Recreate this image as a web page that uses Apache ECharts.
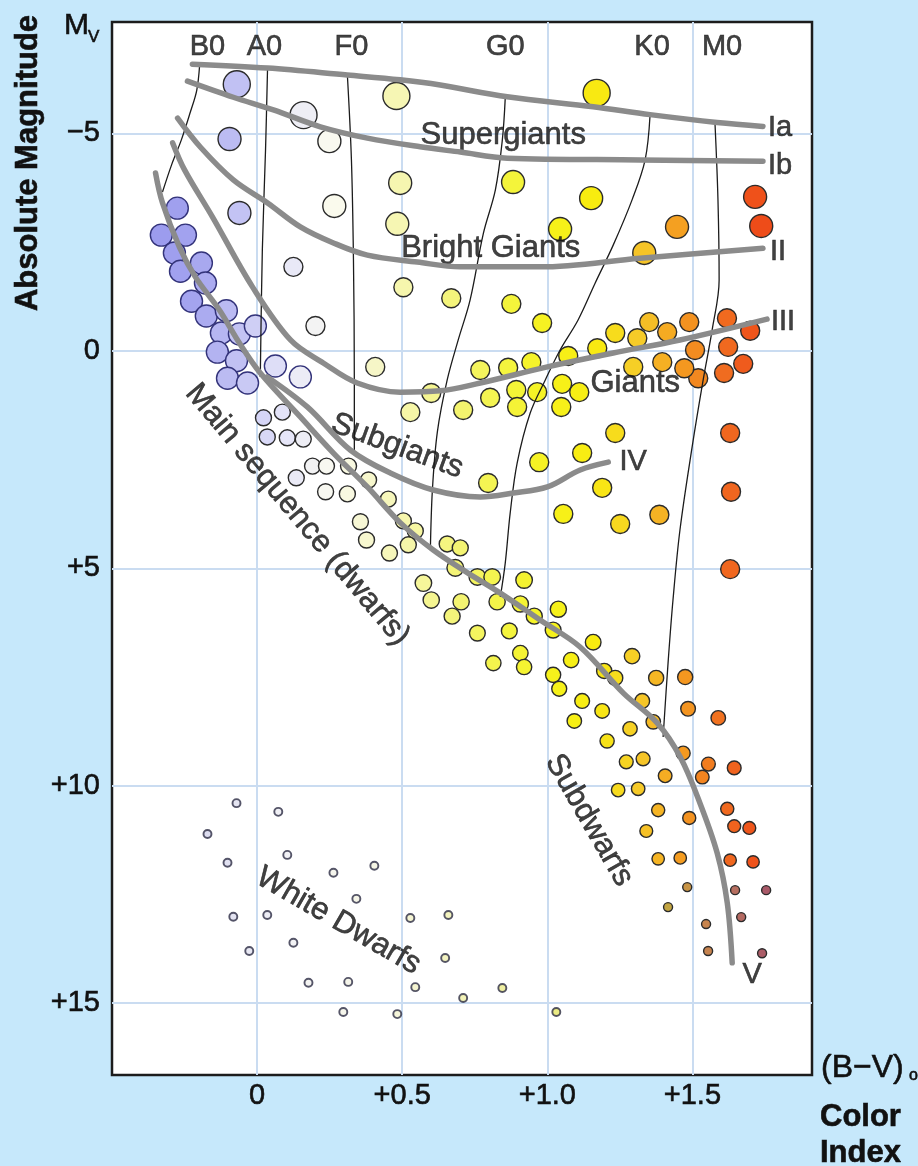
<!DOCTYPE html>
<html>
<head>
<meta charset="utf-8">
<title>HR diagram</title>
<script src="https://cdn.jsdelivr.net/npm/echarts@6.0.0/dist/echarts.min.js"></script>
<style>
  html, body { margin: 0; padding: 0; background: #c6e8fb; }
  #chart { width: 918px; height: 1166px; }
</style>
</head>
<body>
<div id="chart"></div>
<script>
const FONT = '"Liberation Sans", Arial, Helvetica, sans-serif'
const INK = '#111111'

// stars: [B-V colour index, absolute magnitude]
const superGiants = [[-0.07, -6.13], [0.16, -5.42], [0.48, -5.86], [1.17, -5.93]]
const brightGiants = [
  [-0.095, -4.87], [0.249, -4.82], [0.493, -3.86], [0.882, -3.88], [1.151, -3.51], [0.266, -3.33],
  [0.483, -2.92], [-0.061, -3.17], [1.044, -2.80], [1.447, -2.85], [1.716, -3.54], [1.737, -2.87], [1.334, -2.25]
]
const giants = [
  [0.125, -1.93], [0.504, -1.46], [0.669, -1.21], [0.876, -1.08], [0.982, -0.64], [0.201, -0.57], [0.407, 0.37],
  [0.769, 0.44], [0.865, 0.39], [0.945, 0.26], [1.072, 0.12], [1.172, -0.06], [1.234, -0.41], [1.310, -0.29],
  [1.351, -0.66], [1.413, -0.43], [1.489, -0.66], [1.619, -0.75], [1.699, -0.46], [1.509, -0.02], [1.623, -0.09],
  [1.675, 0.30], [1.609, 0.51], [1.520, 0.63], [1.472, 0.40], [1.396, 0.26], [1.296, 0.37],
  [0.803, 1.08], [0.893, 0.90], [0.896, 1.29], [0.965, 0.95], [1.051, 0.76], [1.110, 0.95], [1.048, 1.29],
  [0.600, 0.97], [0.528, 1.41], [0.710, 1.36],
  [1.234, 1.89], [1.120, 2.35], [0.972, 2.56], [0.796, 3.04], [1.189, 3.15], [1.055, 3.75], [1.251, 3.98], [1.386, 3.77],
  [1.630, 1.89], [1.633, 3.24], [1.630, 5.02]
]
const msUpper = [
  [-0.275, -3.28], [-0.330, -2.66], [-0.247, -2.66], [-0.285, -2.25], [-0.264, -1.83], [-0.192, -2.02],
  [-0.178, -1.56], [-0.226, -1.14], [-0.175, -0.80], [-0.106, -0.92], [-0.123, -0.41], [-0.061, -0.39],
  [-0.006, -0.57], [-0.137, 0.03], [-0.071, 0.23], [-0.102, 0.63], [-0.033, 0.74], [0.063, 0.35], [0.149, 0.60]
]
const msMid = [
  [0.022, 1.54], [0.087, 1.41], [0.035, 1.98], [0.104, 2.00], [0.159, 2.03], [0.191, 2.65], [0.239, 2.65],
  [0.315, 2.65], [0.135, 2.92], [0.384, 2.97], [0.236, 3.24], [0.311, 3.29], [0.452, 3.41], [0.356, 3.93],
  [0.504, 3.91], [0.545, 4.14], [0.377, 4.35], [0.521, 4.46], [0.456, 4.65], [0.655, 4.44], [0.700, 4.53]
]
const msLower = [
  [0.683, 4.99], [0.759, 5.20], [0.810, 5.20], [0.920, 5.27], [0.573, 5.34], [0.600, 5.73], [0.703, 5.77],
  [0.672, 6.10], [0.827, 5.77], [0.907, 5.82], [0.955, 6.10], [1.038, 5.94], [0.759, 6.49], [0.869, 6.44],
  [1.020, 6.42], [0.907, 6.95], [0.814, 7.18], [0.920, 7.27], [1.082, 7.11], [1.158, 6.70], [1.196, 7.36],
  [1.234, 7.52], [1.020, 7.45], [1.041, 7.77], [1.120, 8.05], [1.189, 8.28], [1.093, 8.51], [1.206, 8.97],
  [1.292, 7.02], [1.375, 7.52], [1.475, 7.50], [1.327, 8.05], [1.485, 8.23], [1.589, 8.44], [1.285, 8.69],
  [1.365, 8.53], [1.468, 9.25], [1.272, 9.45], [1.330, 9.38], [1.406, 9.77], [1.555, 9.50], [1.534, 9.80],
  [1.644, 9.59], [1.244, 10.10], [1.313, 10.07], [1.382, 10.56], [1.489, 10.74], [1.620, 10.53], [1.341, 11.04],
  [1.644, 10.93], [1.696, 10.97], [1.382, 11.68], [1.458, 11.66], [1.630, 11.71], [1.709, 11.75]
]
const faintDwarfs = [
  [1.482, 12.33], [1.647, 12.40], [1.754, 12.40], [1.416, 12.79], [1.668, 13.02], [1.547, 13.18], [1.554, 13.80], [1.740, 13.85]
]
const whiteDwarfs = [
  [-0.071, 10.40], [0.073, 10.60], [-0.171, 11.11], [-0.102, 11.77], [0.104, 11.59], [0.263, 12.00], [0.404, 11.84],
  [0.342, 12.60], [-0.082, 13.01], [0.035, 12.97], [0.125, 13.61], [-0.027, 13.80], [0.528, 13.04], [0.659, 12.97],
  [0.648, 13.96], [0.177, 14.53], [0.314, 14.51], [0.545, 14.63], [0.710, 14.88], [0.845, 14.65], [0.297, 15.20],
  [0.483, 15.25], [1.031, 15.20]
]

// luminosity class curves
const curveIa = [[-0.223, -6.59], [0.036, -6.50], [0.311, -6.34], [0.493, -6.23], [0.631, -6.11], [0.862, -5.84], [1.158, -5.61], [1.354, -5.43], [1.585, -5.25], [1.743, -5.16]]
const curveIb = [[-0.240, -6.20], [-0.082, -5.83], [0.056, -5.54], [0.218, -5.15], [0.380, -4.89], [0.562, -4.69], [0.700, -4.57], [0.862, -4.43], [1.320, -4.39], [1.743, -4.36]]
const curveII = [[-0.274, -5.35], [-0.195, -4.68], [-0.082, -3.93], [0.036, -3.40], [0.149, -2.85], [0.263, -2.48], [0.380, -2.20], [0.552, -2.04], [0.700, -1.93], [0.975, -1.93], [1.320, -2.13], [1.743, -2.36]]
const curveIII = [[-0.291, -4.78], [-0.250, -4.16], [-0.154, -3.08], [-0.016, -1.47], [0.115, -0.25], [0.228, 0.28], [0.345, 0.74], [0.493, 0.95], [0.631, 0.92], [0.769, 0.74], [1.000, 0.37], [1.227, 0.05], [1.457, -0.25], [1.757, -0.73]]
const curveIV = [[0.035, 0.60], [0.173, 1.29], [0.321, 2.28], [0.459, 2.81], [0.607, 3.20], [0.769, 3.36], [0.883, 3.27], [1.000, 3.13], [1.113, 2.74], [1.210, 2.56]]
const curveV = [[-0.350, -4.09], [-0.326, -3.40], [-0.268, -2.39], [-0.213, -1.70], [-0.130, -0.94], [-0.061, -0.18], [0.011, 0.51], [0.149, 1.52], [0.263, 2.35], [0.380, 3.13], [0.493, 3.95], [0.607, 4.58], [0.724, 5.10], [0.838, 5.57], [0.975, 6.19], [1.113, 6.81], [1.262, 7.87], [1.379, 8.56], [1.458, 9.34], [1.526, 10.40], [1.585, 11.54], [1.620, 12.69], [1.637, 14.07]]

// spectral type boundaries
const edgeB0 = [[-0.198, -6.57], [-0.208, -5.99], [-0.230, -5.49], [-0.261, -4.85], [-0.295, -4.27], [-0.326, -3.65]]
const edgeA0 = [[0.036, -6.50], [0.029, -4.61], [0.018, -2.31], [0.011, 0.60]]
const edgeF0 = [[0.311, -6.34], [0.325, -4.39], [0.332, -2.09], [0.335, 0.67], [0.335, 2.28]]
const edgeG0 = [[0.855, -5.81], [0.845, -4.85], [0.821, -3.70], [0.780, -2.71], [0.734, -1.17], [0.693, -0.25], [0.655, 0.67], [0.621, 1.87], [0.604, 3.20], [0.597, 4.58]]
const edgeK0 = [[1.354, -5.42], [1.337, -4.39], [1.292, -3.47], [1.227, -2.43], [1.165, -1.56], [1.106, -0.71], [1.044, -0.02], [0.993, 0.67], [0.941, 1.43], [0.896, 2.58], [0.872, 3.73], [0.855, 4.88], [0.838, 5.66]]
const edgeM0 = [[1.578, -5.19], [1.588, -3.47], [1.592, -1.63], [1.568, -0.48], [1.537, 0.67], [1.499, 2.21], [1.457, 4.12], [1.433, 5.73], [1.416, 7.18], [1.399, 8.88]]

const spectralTypes = ['B0', 'A0', 'F0', 'G0', 'K0', 'M0']
const spectralX = [-0.171, 0.025, 0.325, 0.855, 1.361, 1.602]
const spectralMag = -6.98
const lumClasses = ['Ia', 'Ib', 'II', 'III', 'IV', 'V']
const lumPos = [[1.802, -5.12], [1.802, -4.26], [1.795, -2.27], [1.812, -0.66], [1.296, 2.56], [1.706, 14.35]]
const regionNames = ['Supergiants', 'Bright Giants', 'Giants', 'Subgiants', 'Main sequence (dwarfs)', 'Subdwarfs', 'White Dwarfs']
const regionPos = [[0.848, -4.96], [0.805, -2.36], [1.303, 0.74], [0.483, 2.19], [0.139, 3.77], [1.144, 10.79], [0.280, 13.11]]
const regionAngle = [0, 0, 0, -20, -50, -60, -30]

const xTicks = [0, 0.5, 1.0, 1.5]
const yTicks = [-5, 0, 5, 10, 15]

const chart = echarts.init(document.getElementById('chart'))

const thin = data => ({
  type: 'line', data, smooth: 0.35, showSymbol: false, silent: true,
  lineStyle: { width: 1.3, color: '#1c1c1c' }
})
const thick = data => ({
  type: 'line', data, smooth: 0.35, showSymbol: false, silent: true,
  lineStyle: { width: 5.5, color: '#8b8b8b', cap: 'round' }
})
const stars = (data, size, border) => ({
  type: 'scatter', data, symbolSize: size, silent: true,
  itemStyle: { borderColor: border || '#2b2b2b', borderWidth: 1.4, opacity: 1 }
})
// label text is slightly stroked so it reads as heavy as the original lettering
const ink = { color: INK, fontFamily: FONT, textBorderColor: INK, textBorderWidth: 0.6 }
const textSeries = (data, fontSize) => ({
  type: 'scatter', data, symbolSize: 0, silent: true,
  label: { show: true, position: 'inside', formatter: '{b}', fontSize, ...ink }
})
const gText = (x, y, text, fontSize, extra) => ({
  type: 'text', x, y, ...extra,
  style: { text, fontSize, fontFamily: FONT, fill: INK, stroke: INK, lineWidth: 0.6, align: 'left', verticalAlign: 'middle', ...(extra && extra.style) }
})

const series = [
  thin(edgeB0), thin(edgeA0), thin(edgeF0), thin(edgeG0), thin(edgeK0), thin(edgeM0),
  thick(curveIa), thick(curveIb), thick(curveII), thick(curveIII), thick(curveIV), thick(curveV),
  stars(superGiants, 27), // 12
  stars(brightGiants, 23),
  stars(giants, 19),
  stars(msUpper, 22, '#33337a'),
  stars(msMid, 16),
  stars(msLower, v => 20 - 0.65 * v[1]),
  stars(faintDwarfs, 9), // 18
  { ...stars(whiteDwarfs, 8), itemStyle: { borderColor: '#2c2c44', borderWidth: 1.9 } }, // 19
  textSeries(spectralTypes.map((t, i) => ({ name: t, value: [spectralX[i], spectralMag] })), 29),
  textSeries(lumClasses.map((t, i) => ({ name: t, value: lumPos[i] })), 29),
  textSeries(regionNames.map((t, i) => ({ name: t, value: regionPos[i], label: { rotate: regionAngle[i] } })), 31)
]

const option = {
  animation: false,
  backgroundColor: '#c6e8fb',
  grid: {
    left: 112, top: 22, width: 700, height: 1053,
    show: true, backgroundColor: '#ffffff', borderColor: '#1c1c1c', borderWidth: 2.5
  },
  xAxis: {
    type: 'value', min: -0.5, max: 1.912,
    axisLine: { show: false },
    axisTick: { show: false, customValues: xTicks },
    axisLabel: {
      customValues: xTicks, fontSize: 29, margin: 6, ...ink,
      formatter: v => (v === 0 ? '0' : '+' + v.toFixed(1))
    },
    splitLine: { show: true, lineStyle: { color: '#cadcf1', width: 2 } }
  },
  yAxis: {
    type: 'value', inverse: true, min: -7.56, max: 16.65,
    axisLine: { show: false },
    axisTick: { show: false, customValues: yTicks },
    axisLabel: {
      customValues: yTicks, fontSize: 29, margin: 12, ...ink,
      formatter: v => (v === 0 ? '0' : v < 0 ? '\u2212' + (-v) : '+' + v)
    },
    splitLine: { show: true, lineStyle: { color: '#cadcf1', width: 2 } }
  },
  visualMap: [
    {
      type: 'continuous', show: false, dimension: 0, min: -0.35, max: 1.76, seriesIndex: [12, 13, 14, 15, 16, 17],
      inRange: { color: ['#9a9aee', '#a6a6ef', '#c6c6f4', '#e6e6f8', '#fafaf0', '#f6f6c8', '#f6f6a0', '#f4f470',
        '#f4f440', '#f6f21c', '#f8ec10', '#f6cc28', '#f49c20', '#f06c20', '#ee4618'] }
    },
    {
      type: 'continuous', show: false, dimension: 0, min: 1.4, max: 1.76, seriesIndex: [18],
      inRange: { color: ['#c0a840', '#cc8a48', '#b87060', '#a85868'] }
    },
    {
      type: 'continuous', show: false, dimension: 0, min: -0.2, max: 1.05, seriesIndex: [19],
      inRange: { color: ['#d0d0ea', '#f0f0f4', '#f4f4dc', '#eeeea0', '#e4e460'] }
    }
  ],
  graphic: [
    gText(28, 163, 'Absolute Magnitude', 31, { rotation: Math.PI / 2, style: { fontWeight: 'bold', align: 'center' } }),
    gText(64, 26, 'M', 30),
    gText(88, 37, 'V', 17),
    gText(821, 1068, '(B\u2212V)', 32),
    gText(909, 1076, 'o', 16),
    gText(820, 1117, 'Color', 31, { style: { fontWeight: 'bold' } }),
    gText(820, 1153, 'Index', 31, { style: { fontWeight: 'bold' } })
  ],
  series
}

chart.setOption(option)
</script>
</body>
</html>
